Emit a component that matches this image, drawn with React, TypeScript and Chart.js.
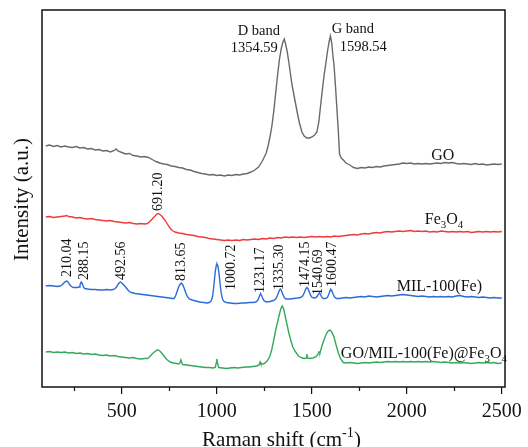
import React, { useEffect, useRef } from 'react';
import { Chart, registerables } from 'chart.js';

Chart.register(...registerables);

const SERIF = '"Liberation Serif", "Times New Roman", Times, serif';

// Raman shift (cm-1) and relative intensity pairs for each sample, stacked offsets included
const goPoints: [number, number][] = [
  [100, 241], [120, 242], [140, 240.5], [160, 241.5], [180, 240], [200, 241], [220, 240], [240, 239.5],
  [260, 240.5], [280, 239], [300, 239.5], [320, 238], [340, 238.5], [360, 237], [380, 237.5], [400, 236],
  [420, 236.5], [440, 235], [460, 236.5], [470, 238], [480, 236], [500, 234.5], [520, 233], [540, 233.5],
  [560, 231.5], [580, 231], [600, 230], [620, 230.5], [640, 229.5], [660, 227.5], [680, 225.5], [700, 224],
  [720, 223], [740, 222.5], [760, 221], [780, 220.5], [800, 219.5], [820, 219], [840, 217.5], [860, 217],
  [880, 215.5], [900, 214.5], [920, 213.5], [940, 213], [960, 212], [980, 212.5], [1000, 211.5], [1020, 212],
  [1040, 211], [1060, 212], [1080, 211.5], [1100, 212.5], [1120, 212], [1140, 213], [1160, 213.5], [1180, 215],
  [1200, 217], [1220, 220], [1240, 226], [1260, 234], [1270, 241], [1280, 250], [1290, 261], [1300, 276],
  [1310, 294], [1320, 312], [1330, 328], [1340, 339], [1348, 345], [1355, 348], [1362, 343], [1370, 336],
  [1379, 325], [1388, 313], [1396, 302], [1410, 288], [1423, 275], [1435, 264], [1448, 255], [1460, 251],
  [1474, 249], [1488, 249], [1501, 250], [1515, 252], [1527, 255], [1537, 265], [1545, 279], [1555, 296],
  [1565, 312], [1575, 325], [1583, 336], [1591, 345], [1598, 351], [1605, 344], [1612, 330], [1617, 322],
  [1625, 300], [1632, 279], [1640, 255], [1646, 233], [1655, 229], [1666, 227], [1680, 224], [1700, 222],
  [1720, 219.5], [1740, 218.5], [1760, 219.5], [1780, 219], [1800, 220], [1820, 219.5], [1840, 220.5], [1860, 220],
  [1880, 221], [1900, 221.5], [1920, 222], [1940, 222.5], [1960, 223], [1980, 224], [2000, 223.5], [2020, 224],
  [2040, 223], [2060, 223.5], [2080, 223], [2100, 223.5], [2120, 223], [2140, 223.5], [2160, 224], [2180, 223.5],
  [2200, 224.5], [2220, 224], [2240, 224.5], [2260, 223.5], [2280, 223], [2300, 223.5], [2320, 223], [2340, 222.5],
  [2360, 223.5], [2380, 222.5], [2400, 223], [2420, 222], [2440, 222.5], [2460, 223], [2480, 222.5], [2500, 223],
];

const fe3o4Points: [number, number][] = [
  [100, 170], [120, 170.5], [140, 169.5], [160, 170], [180, 170.5], [200, 171], [210, 171.5], [220, 170.5],
  [240, 170], [260, 169], [280, 169.5], [300, 168.5], [320, 168], [340, 168.5], [360, 167.5], [380, 167],
  [400, 166.5], [420, 166], [440, 166.5], [460, 165.5], [480, 165], [500, 164.5], [520, 164], [540, 164.5],
  [560, 163.5], [580, 163], [600, 163.5], [620, 163], [635, 163.5], [645, 165], [655, 167], [665, 169],
  [675, 171], [685, 173], [691, 173.5], [700, 172.5], [710, 171], [720, 168.5], [730, 166], [740, 163],
  [750, 160], [760, 157.5], [770, 156], [780, 155], [800, 154], [820, 153.5], [840, 152.5], [860, 152],
  [880, 151.5], [900, 150.5], [920, 150], [940, 149.5], [960, 148.5], [980, 148], [1000, 147.5], [1020, 147],
  [1040, 146.5], [1060, 147], [1080, 146.5], [1100, 147], [1120, 146.5], [1140, 147.5], [1160, 147], [1180, 147.5],
  [1200, 148], [1220, 147.5], [1240, 148.5], [1260, 148], [1280, 149], [1300, 148.5], [1320, 149.5], [1340, 149],
  [1360, 150], [1380, 149.5], [1400, 150], [1420, 149.5], [1440, 150], [1460, 149.5], [1480, 150], [1500, 150.5],
  [1520, 150], [1540, 150.5], [1560, 150], [1580, 150.5], [1600, 150], [1620, 151], [1640, 150.5], [1660, 151],
  [1680, 151.5], [1700, 152], [1720, 152.5], [1740, 152], [1760, 153], [1780, 153.5], [1800, 153], [1820, 154],
  [1840, 154.5], [1860, 154], [1880, 155], [1900, 155.5], [1920, 155], [1940, 155.5], [1960, 156], [1980, 155.5],
  [2000, 156], [2020, 156.5], [2040, 155.5], [2060, 156], [2080, 155.5], [2100, 156], [2120, 155], [2140, 155.5],
  [2160, 155], [2180, 156], [2200, 155.5], [2220, 155], [2240, 155.5], [2260, 155], [2280, 155.5], [2300, 155],
  [2320, 155.5], [2340, 154.5], [2360, 155], [2380, 155.5], [2400, 155], [2420, 155.5], [2440, 155], [2460, 155.5],
  [2480, 155], [2500, 155.5],
];

const milPoints: [number, number][] = [
  [100, 101], [120, 101.5], [140, 101], [160, 100.5], [175, 101], [185, 102], [195, 104], [203, 105.5],
  [210, 106], [217, 105], [225, 102.5], [235, 100.5], [245, 99.5], [255, 99.5], [265, 99.5], [275, 100],
  [280, 102], [285, 104.5], [288, 105], [292, 103.5], [298, 100], [305, 98.5], [320, 98], [340, 97.5],
  [360, 97.5], [380, 97], [400, 97], [420, 97.5], [440, 97], [455, 97.5], [465, 98.5], [472, 100],
  [480, 102.5], [488, 104.5], [493, 105], [500, 104], [510, 102], [520, 100], [530, 97.5], [540, 95.5],
  [550, 94.5], [570, 93.5], [590, 93], [610, 92.5], [630, 92], [650, 91.5], [670, 91], [690, 90.5],
  [710, 90], [730, 89.5], [750, 89], [765, 88.5], [775, 88.5], [783, 91], [790, 95], [798, 99.5],
  [806, 102.5], [813, 104], [820, 102.5], [828, 99], [836, 94.5], [845, 90.5], [855, 88], [870, 87],
  [890, 86], [910, 85], [930, 84.5], [950, 84], [960, 84.5], [970, 86], [977, 90], [983, 98],
  [988, 108], [993, 117], [998, 122], [1001, 123], [1006, 121], [1012, 113], [1018, 102], [1024, 93],
  [1030, 88], [1038, 85.5], [1050, 84.5], [1070, 84], [1090, 83.5], [1110, 83.5], [1130, 84], [1150, 84],
  [1170, 84.5], [1190, 84.5], [1205, 85], [1215, 86.5], [1222, 89.5], [1228, 92.5], [1231, 93], [1236, 91.5],
  [1243, 88], [1250, 86], [1262, 85], [1280, 85.5], [1298, 86.5], [1310, 88], [1318, 91], [1326, 95],
  [1332, 97.5], [1335, 98], [1340, 96.5], [1347, 93], [1355, 89.5], [1365, 88], [1385, 88], [1405, 88.5],
  [1425, 89], [1440, 89.5], [1452, 91], [1460, 94], [1467, 97.5], [1474, 99.5], [1480, 98.5], [1487, 95],
  [1494, 91.5], [1502, 89.5], [1512, 89], [1522, 89.5], [1530, 91], [1536, 93], [1541, 94], [1546, 92.5],
  [1553, 89.5], [1562, 88.5], [1572, 88.5], [1582, 89.5], [1590, 93], [1596, 96.5], [1600, 97.5], [1605, 96.5],
  [1612, 93], [1620, 90], [1630, 88.5], [1645, 88.5], [1660, 89], [1680, 89.5], [1700, 89], [1720, 89.5],
  [1740, 90], [1760, 90.5], [1780, 90], [1800, 91], [1820, 90.5], [1840, 90], [1860, 90.5], [1880, 91],
  [1900, 91.5], [1920, 91], [1940, 91.5], [1960, 92], [1980, 92.5], [2000, 92], [2020, 91.5], [2040, 91],
  [2060, 90.5], [2080, 91], [2100, 90.5], [2120, 90], [2140, 90.5], [2160, 90], [2180, 90.5], [2200, 90],
  [2220, 90.5], [2240, 90], [2260, 91], [2280, 91.5], [2300, 90.5], [2320, 90], [2340, 90.5], [2360, 90],
  [2380, 89.5], [2400, 90], [2420, 89.5], [2440, 89], [2460, 89.5], [2480, 89], [2500, 89],
];

const compositePoints: [number, number][] = [
  [100, 35], [120, 35.5], [140, 34.5], [160, 35], [180, 34.5], [200, 35], [220, 34], [240, 34.5],
  [260, 33.5], [280, 34], [300, 33], [320, 33.5], [340, 32.5], [360, 33], [380, 32], [400, 31.5],
  [420, 32], [440, 31], [460, 31.5], [480, 30.5], [500, 30], [520, 29.5], [540, 29], [560, 29.5],
  [580, 28.5], [600, 28], [620, 28.5], [635, 28.5], [645, 30], [655, 32], [665, 34], [675, 35.5],
  [685, 37], [692, 37], [700, 36], [710, 34], [720, 31.5], [730, 29], [740, 27], [755, 25],
  [770, 24], [790, 23.5], [800, 23], [806, 24], [811, 27], [815, 25], [820, 22.5], [840, 22],
  [860, 21.5], [880, 21], [900, 20.5], [920, 20], [940, 19.5], [960, 19.5], [980, 19], [992, 19.5],
  [997, 24], [1000, 28], [1004, 24], [1010, 19.5], [1030, 19], [1050, 18.5], [1070, 19], [1090, 19.5],
  [1110, 19], [1130, 19.5], [1150, 20], [1170, 20], [1190, 20.5], [1210, 21], [1222, 22], [1228, 25],
  [1232, 23], [1240, 23], [1250, 23.5], [1265, 26], [1280, 31], [1290, 38], [1300, 47], [1310, 57],
  [1320, 65], [1330, 73], [1338, 79], [1345, 81], [1352, 78], [1360, 71], [1368, 64], [1378, 55],
  [1389, 47], [1400, 40], [1415, 35], [1430, 31], [1450, 29], [1462, 28.5], [1470, 29], [1474, 33],
  [1478, 29], [1490, 28.5], [1505, 29], [1520, 30], [1530, 32], [1538, 35], [1543, 34], [1552, 40],
  [1560, 45], [1570, 50], [1579, 54], [1588, 56.5], [1596, 57], [1605, 55], [1617, 50], [1628, 42],
  [1640, 34], [1652, 28], [1666, 24.5], [1680, 24], [1700, 24.5], [1720, 24], [1740, 23.5], [1760, 24],
  [1780, 24.5], [1800, 24], [1820, 24.5], [1840, 25], [1860, 24.5], [1880, 25], [1900, 25.5], [1920, 25],
  [1940, 25.5], [1960, 25], [1980, 25.5], [2000, 25], [2020, 25.5], [2040, 25], [2060, 25.5], [2080, 25],
  [2100, 25.5], [2120, 25], [2140, 25.5], [2160, 25], [2180, 24.5], [2200, 25], [2220, 24.5], [2240, 24],
  [2260, 24.5], [2280, 24], [2300, 24.5], [2320, 24], [2340, 23.5], [2360, 24], [2380, 24.5], [2400, 24],
  [2420, 24.5], [2440, 24], [2460, 24.5], [2480, 23.5], [2500, 24],
];

// x axis: labelled every 500, minor marks every 250
const majorTicks = [500, 1000, 1500, 2000, 2500];
const minorTicks = [250, 750, 1250, 1750, 2250];

// peak assignments written vertically above the peaks (anchor = bottom centre of the text)
const peakLabels = [
  { text: '691.20', x: 694, y: 176 },
  { text: '210.04', x: 213, y: 110 },
  { text: '288.15', x: 305, y: 107 },
  { text: '492.56', x: 499, y: 107 },
  { text: '813.65', x: 814, y: 106 },
  { text: '1000.72', x: 1074, y: 97 },
  { text: '1231.17', x: 1230, y: 94 },
  { text: '1335.30', x: 1330, y: 97 },
  { text: '1474.15', x: 1464, y: 100 },
  { text: '1540.69', x: 1536, y: 92 },
  { text: '1600.47', x: 1610, y: 100 },
];

// band annotations for GO
const bandLabels = [
  { text: 'D band', x: 1221, y: 352, align: 'center' },
  { text: '1354.59', x: 1321, y: 335, align: 'right' },
  { text: 'G band', x: 1605, y: 354, align: 'left' },
  { text: '1598.54', x: 1647, y: 336, align: 'left' },
];

// sample names next to each trace
const seriesNames = [
  { text: 'GO', x: 2190, y: 227, align: 'center' },
  { text: 'Fe_{3}O_{4}', x: 2095, y: 163, align: 'left' },
  { text: 'MIL-100(Fe)', x: 1947, y: 96, align: 'left' },
  { text: 'GO/MIL-100(Fe)@Fe_{3}O_{4}', x: 1653, y: 29, align: 'left' },
];

const seriesColors = ['#6a6a6a', '#ee3b3b', '#2a6bd8', '#36a85c'];

type Seg = { t: string; k: number };

function parseRich(s: string): Seg[] {
  const out: Seg[] = [];
  const re = /([_^])\{([^}]*)\}/g;
  let last = 0;
  let m: RegExpExecArray | null;
  while ((m = re.exec(s))) {
    if (m.index > last) out.push({ t: s.slice(last, m.index), k: 0 });
    out.push({ t: m[2], k: m[1] === '_' ? -1 : 1 });
    last = m.index + m[0].length;
  }
  if (last < s.length) out.push({ t: s.slice(last), k: 0 });
  return out;
}

function drawRich(ctx: CanvasRenderingContext2D, s: string, x: number, y: number, size: number, align: string) {
  const segs = parseRich(s);
  const small = size * 0.68;
  let total = 0;
  const widths = segs.map((g) => {
    ctx.font = `${g.k === 0 ? size : small}px ${SERIF}`;
    const w = ctx.measureText(g.t).width;
    total += w;
    return w;
  });
  let cx = align === 'center' ? x - total / 2 : align === 'right' ? x - total : x;
  ctx.textAlign = 'left';
  ctx.textBaseline = 'alphabetic';
  segs.forEach((g, i) => {
    ctx.font = `${g.k === 0 ? size : small}px ${SERIF}`;
    const dy = g.k === -1 ? size * 0.22 : g.k === 1 ? -size * 0.42 : 0;
    ctx.fillText(g.t, cx, y + dy);
    cx += widths[i];
  });
}

const decorations = {
  id: 'ramanDecorations',
  afterDraw(chart: any) {
    const { ctx, chartArea, scales } = chart;
    const xs = scales.x;
    const ys = scales.y;
    ctx.save();

    // frame
    ctx.strokeStyle = '#111';
    ctx.lineWidth = 1.5;
    ctx.strokeRect(chartArea.left, chartArea.top, chartArea.right - chartArea.left, chartArea.bottom - chartArea.top);

    // minor ticks
    ctx.lineWidth = 1.2;
    ctx.beginPath();
    minorTicks.forEach((v) => {
      const px = Math.round(xs.getPixelForValue(v)) + 0.5;
      ctx.moveTo(px, chartArea.bottom);
      ctx.lineTo(px, chartArea.bottom + 4);
    });
    ctx.stroke();

    ctx.fillStyle = '#111';

    // vertical peak positions
    ctx.font = `14px ${SERIF}`;
    peakLabels.forEach((p) => {
      ctx.save();
      ctx.translate(xs.getPixelForValue(p.x), ys.getPixelForValue(p.y));
      ctx.rotate(-Math.PI / 2);
      ctx.textAlign = 'left';
      ctx.textBaseline = 'middle';
      ctx.fillText(p.text, 0, 0);
      ctx.restore();
    });

    bandLabels.forEach((b) => {
      drawRich(ctx, b.text, xs.getPixelForValue(b.x), ys.getPixelForValue(b.y), 14.5, b.align);
    });

    seriesNames.forEach((n) => {
      drawRich(ctx, n.text, xs.getPixelForValue(n.x), ys.getPixelForValue(n.y), 16, n.align);
    });

    // axis titles
    const midX = (chartArea.left + chartArea.right) / 2 + 8;
    drawRich(ctx, 'Raman shift (cm^{-1})', midX, chart.height - 1, 21, 'center');

    ctx.save();
    ctx.translate(28, (chartArea.top + chartArea.bottom) / 2 + 1);
    ctx.rotate(-Math.PI / 2);
    drawRich(ctx, 'Intensity (a.u.)', 0, 0, 21, 'center');
    ctx.restore();

    ctx.restore();
  },
};

export default function App() {
  const canvasRef = useRef<HTMLCanvasElement | null>(null);

  useEffect(() => {
    document.body.style.margin = '0';
    const canvas = canvasRef.current;
    if (!canvas) return;

    const series = [goPoints, fe3o4Points, milPoints, compositePoints];
    const names = ['GO', 'Fe3O4', 'MIL-100(Fe)', 'GO/MIL-100(Fe)@Fe3O4'];

    const chart = new Chart(canvas, {
      type: 'line',
      data: {
        datasets: series.map((pts, i) => ({
          label: names[i],
          data: pts.map(([x, y]) => ({ x, y })),
          borderColor: seriesColors[i],
          borderWidth: 1.4,
          pointRadius: 0,
          tension: 0,
          fill: false,
        })),
      },
      options: {
        animation: false,
        responsive: true,
        maintainAspectRatio: false,
        layout: { padding: { left: 42, right: 23, top: 10, bottom: 0 } },
        plugins: {
          legend: { display: false },
          tooltip: { enabled: false },
        },
        scales: {
          x: {
            type: 'linear',
            min: 80,
            max: 2517,
            afterFit: (scale: any) => {
              scale.height = 60;
            },
            border: { display: false },
            grid: {
              drawOnChartArea: false,
              drawTicks: true,
              tickLength: 7,
              lineWidth: 1.2,
              color: (c: any) => (c.tick && majorTicks.includes(c.tick.value) ? '#111' : 'rgba(0,0,0,0)'),
            },
            ticks: {
              stepSize: 250,
              includeBounds: false,
              autoSkip: false,
              maxRotation: 0,
              padding: 6,
              color: '#111',
              font: { family: SERIF, size: 20 },
              callback: (v: any) => (majorTicks.includes(Number(v)) ? String(v) : ''),
            },
          },
          y: {
            type: 'linear',
            min: 0,
            max: 377,
            display: false,
          },
        },
      },
      plugins: [decorations],
    });

    return () => chart.destroy();
  }, []);

  return (
    <div style={{ position: 'relative', width: 528, height: 447 }}>
      <canvas ref={canvasRef} />
    </div>
  );
}
